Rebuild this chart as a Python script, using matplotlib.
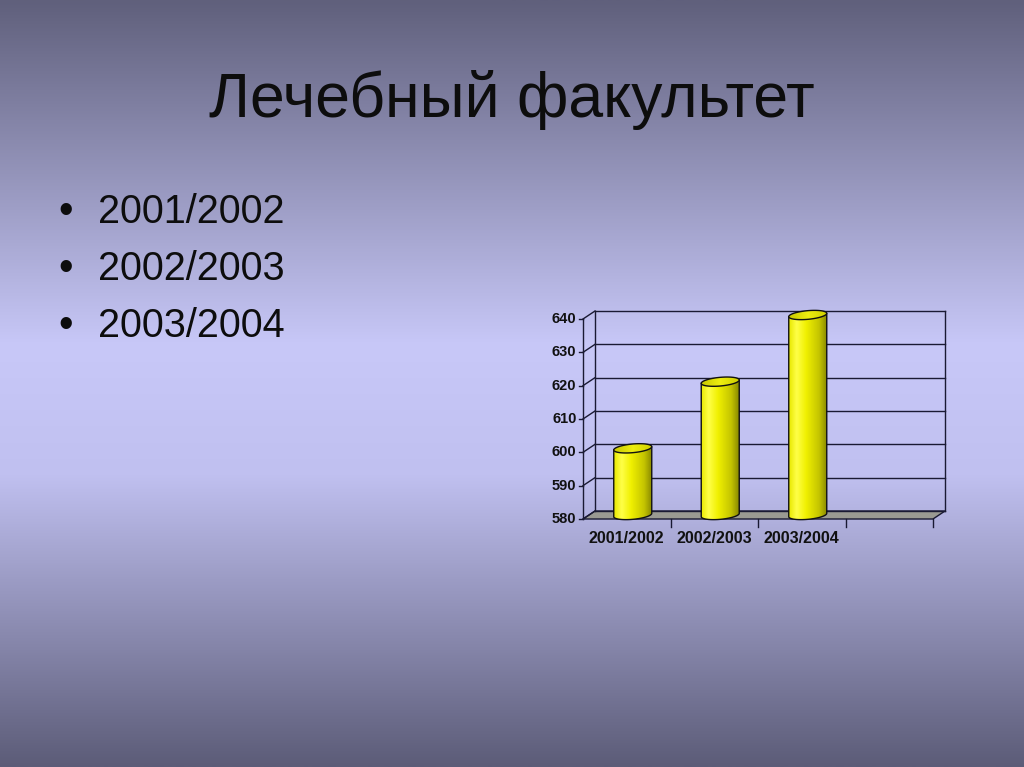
import numpy as np
import matplotlib
matplotlib.use("Agg")
import matplotlib.pyplot as plt
from matplotlib.colors import LinearSegmentedColormap
from matplotlib.patches import Polygon

plt.rcParams['font.family'] = ['Liberation Sans', 'DejaVu Sans']

# data
title = 'Лечебный факультет'
bullets = ['2001/2002', '2002/2003', '2003/2004']
categories = ['2001/2002', '2002/2003', '2003/2004']
values = [600, 620, 640]
yticks = [580, 590, 600, 610, 620, 630, 640]

W, H = 1024, 767
fig = plt.figure(figsize=(W / 100, H / 100), dpi=100)


def px(x, y):
    return x / W, 1 - y / H


# background gradient
bg = fig.add_axes([0, 0, 1, 1], zorder=-1)
bg_cmap = LinearSegmentedColormap.from_list(
    'bg', [(0.0, '#60607c'), (0.45, '#c8c8f8'), (0.62, '#c0c0f0'), (1.0, '#5c5c78')])
grad = np.linspace(0, 1, 256).reshape(-1, 1)
bg.imshow(grad, aspect='auto', cmap=bg_cmap, extent=[0, 1, 1, 0])
bg.set_xlim(0, 1)
bg.set_ylim(1, 0)
bg.axis('off')

# title and bullets
fig.text(*px(512, 117), title, ha='center', va='baseline', fontsize=45, color='#0d0d0d')
for i, b in enumerate(bullets):
    y = 223 + i * 57
    fig.text(*px(66, y - 11), '•', ha='center', va='center', fontsize=30, color='#0d0d0d')
    fig.text(*px(98, y), b, ha='left', va='baseline', fontsize=28.5, color='#0d0d0d')

# chart: front plane of the 3D box spans 580..640 between these pixels
left, right, bottom, top = 583, 933, 519, 319
ppu = (bottom - top) / 60          # pixels per value unit
ylo, yhi = 575, 648                # a bit of room so the caps are not clipped
ax_bot = bottom + (580 - ylo) * ppu
ax_top = top - (yhi - 640) * ppu
ax = fig.add_axes([left / W, 1 - ax_bot / H, (right - left) / W, (ax_bot - ax_top) / H])
ax.set_xlim(0, 4)
ax.set_ylim(ylo, yhi)
ax.axis('off')

dx = 12 / ((right - left) / 4)
dy = 8 / ppu
lc = '#1a1a33'

# back wall and side wall gridlines
for v in yticks:
    ax.plot([dx, 4 + dx], [v + dy, v + dy], color=lc, lw=1, clip_on=False)
    ax.plot([0, dx], [v, v + dy], color=lc, lw=1, clip_on=False)
    ax.plot([-0.05, 0], [v, v], color=lc, lw=1, clip_on=False)
    ax.text(-0.075, v, str(v), ha='right', va='center', fontsize=10.5,
            fontweight='bold', color='#111111')
ax.plot([dx, dx], [580 + dy, 640 + dy], color=lc, lw=1, clip_on=False)
ax.plot([4 + dx, 4 + dx], [580 + dy, 640 + dy], color=lc, lw=1, clip_on=False)
ax.plot([0, 0], [580, 640], color=lc, lw=1, clip_on=False)

# floor
floor = Polygon([(0, 580), (4, 580), (4 + dx, 580 + dy), (dx, 580 + dy)],
                closed=True, facecolor='#9a9a92', edgecolor=lc, lw=1, clip_on=False)
ax.add_patch(floor)
for k in range(1, 5):
    ax.plot([k, k], [580, 580 - dy], color=lc, lw=1, clip_on=False)
for i, c in enumerate(categories):
    ax.text(i + 0.5, 580 - 5.8, c, ha='center', va='center', fontsize=11.5,
            fontweight='bold', color='#111111')

# cylinders
cyl_cmap = LinearSegmentedColormap.from_list(
    'cyl', [(0.0, '#e8e800'), (0.2, '#ffff48'), (0.45, '#f0f000'),
            (0.8, '#c4c400'), (1.0, '#8a8a00')])
top_cmap = LinearSegmentedColormap.from_list('top', ['#c8c800', '#eeee10', '#d0d000'])
w = 38 / ((right - left) / 4)
eh = 2.6
sh = 0.5  # slight tilt of the ellipses
t = np.linspace(0, 2 * np.pi, 120)
tl = np.linspace(np.pi, 2 * np.pi, 60)
for i, v in enumerate(values):
    cx = i + 0.5 + dx / 2
    yb = 580 + dy / 2
    yt = v + dy / 2
    pts = [(cx - w / 2, yt - sh), (cx - w / 2, yb - sh)]
    pts += list(zip(cx + w / 2 * np.cos(tl), yb + eh / 2 * np.sin(tl) + sh * np.cos(tl)))
    pts += [(cx + w / 2, yt + sh)]
    body = Polygon(pts, closed=True, facecolor='none', edgecolor='#111111',
                   lw=1, zorder=4, clip_on=False)
    ax.add_patch(body)
    img = ax.imshow(np.linspace(0, 1, 128).reshape(1, -1), cmap=cyl_cmap,
                    aspect='auto', extent=[cx - w / 2, cx + w / 2, yb - eh - sh, yt + sh],
                    zorder=3, interpolation='bilinear')
    img.set_clip_path(body)
    epts = list(zip(cx + w / 2 * np.cos(t), yt + eh / 2 * np.sin(t) + sh * np.cos(t)))
    topc = Polygon(epts, closed=True, facecolor='none', edgecolor='#111111',
                   lw=1, zorder=6, clip_on=False)
    ax.add_patch(topc)
    timg = ax.imshow(np.linspace(0, 1, 64).reshape(1, -1), cmap=top_cmap,
                     aspect='auto', extent=[cx - w / 2, cx + w / 2, yt - eh, yt + eh],
                     zorder=5, interpolation='bilinear')
    timg.set_clip_path(topc)

ax.set_xlim(0, 4)
ax.set_ylim(ylo, yhi)

fig.savefig('out.png', dpi=100)
